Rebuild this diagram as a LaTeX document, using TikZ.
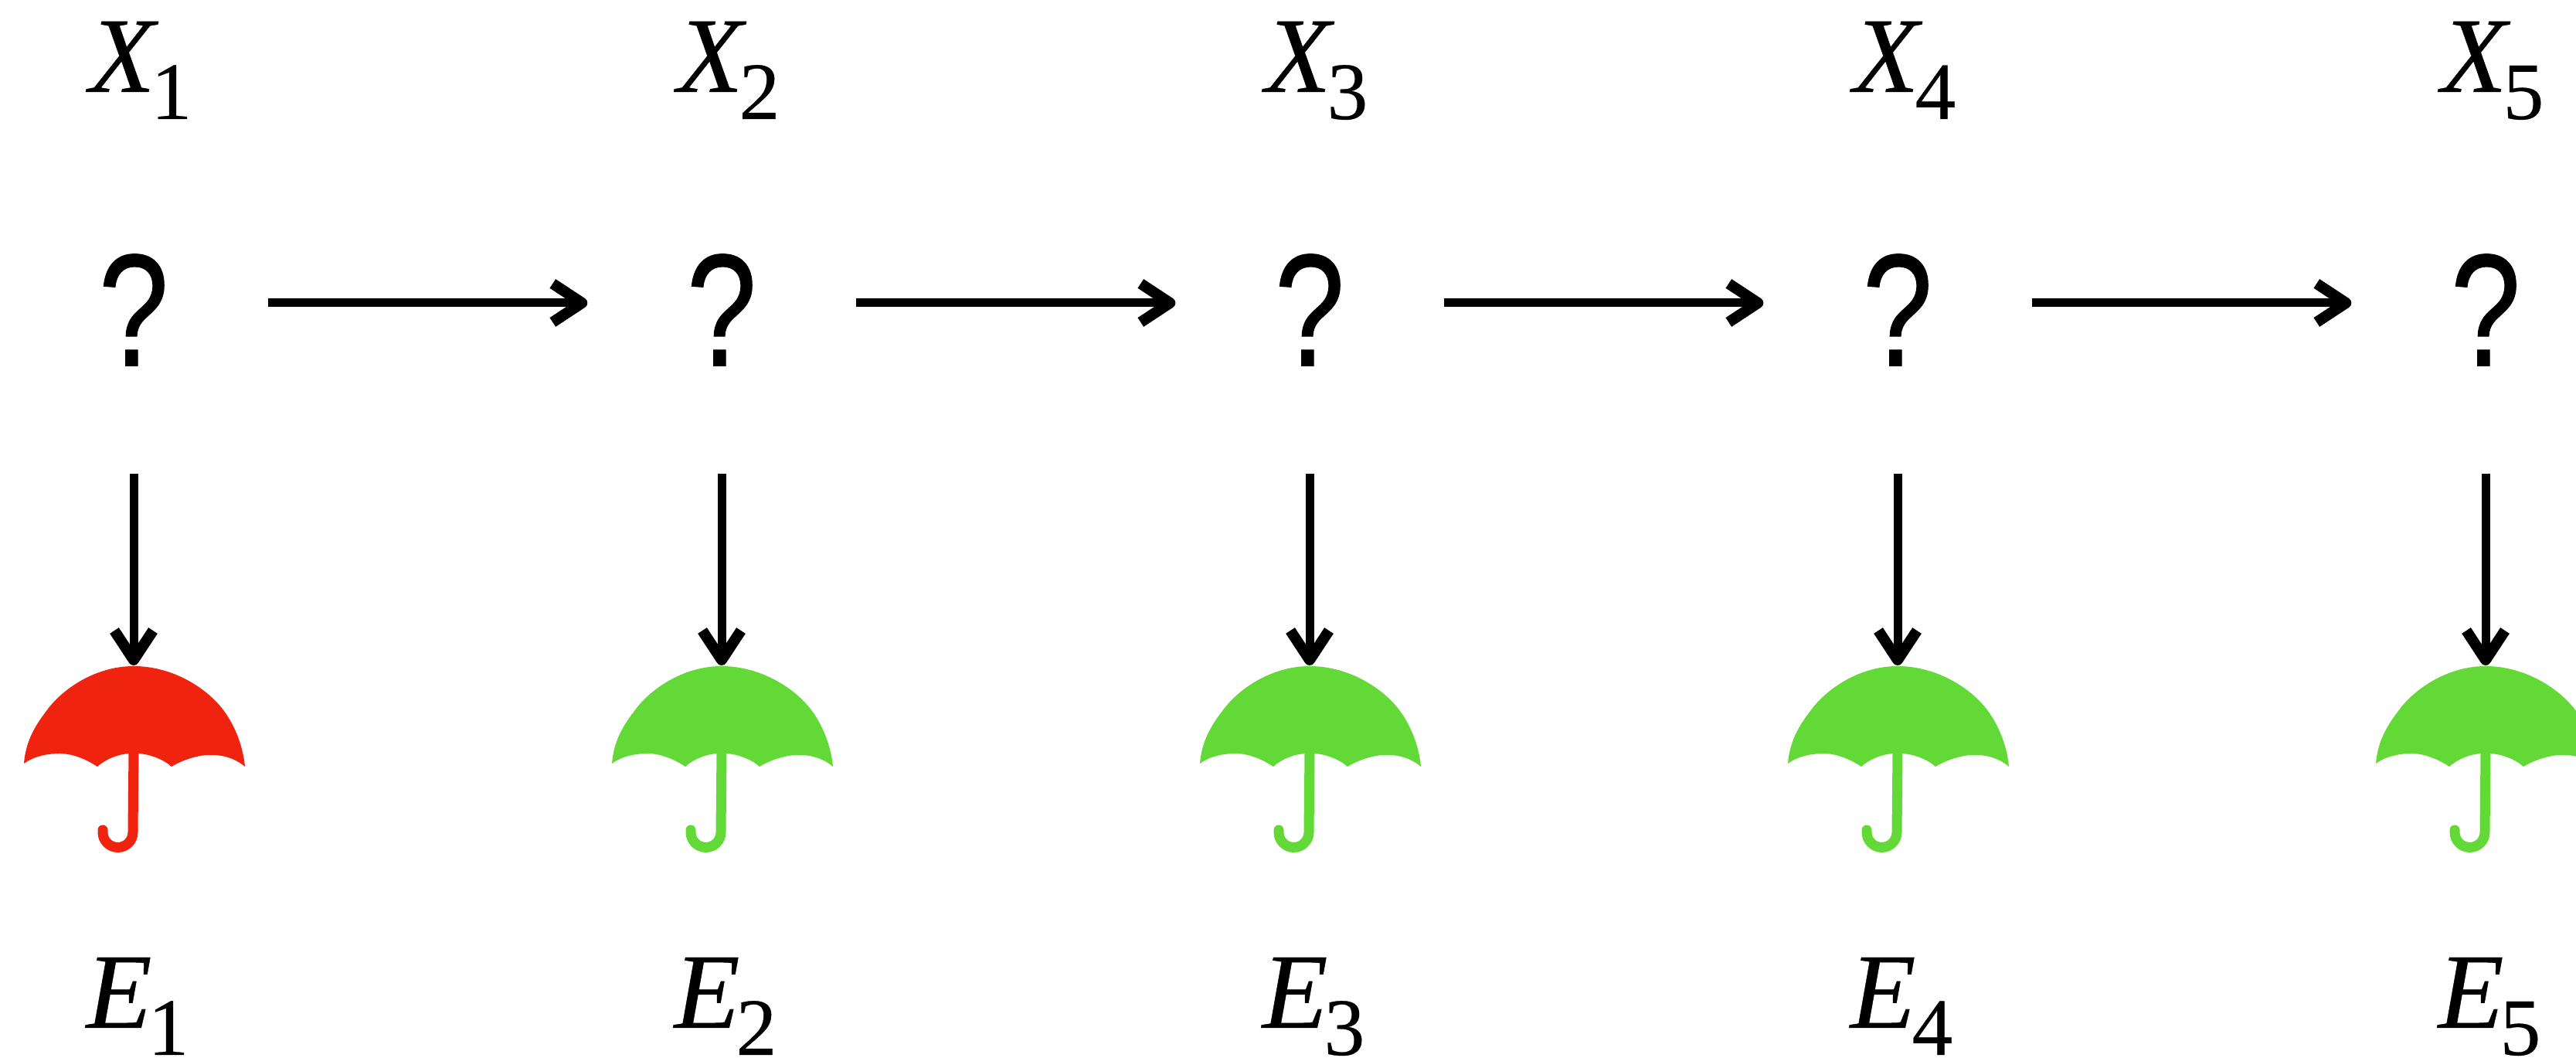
\documentclass[tikz,border=0pt]{standalone}
\usepackage{fontspec}
\usepackage{tikz}
\usetikzlibrary{arrows.meta}
\setmainfont{Liberation Serif}[UprightFeatures={FakeBold=0.3},ItalicFeatures={FakeBold=0.3}]
\newfontfamily\qfont{Liberation Sans}[FakeBold=0.6]
\newcommand{\seqlab}[2]{{\fontsize{39.55}{40}\selectfont\itshape #1}\hspace{-0.05cm}{\fontsize{30}{32}\selectfont\raisebox{-0.35cm}{#2}}}

\begin{document}
\begin{tikzpicture}[x=1cm,y=1cm,
  lab/.style={anchor=base west,inner sep=0pt,text=black},
  hidden/.style={inner sep=0pt,minimum width=3.46cm,minimum height=4.4cm,font=\qfont\fontsize{58}{60}\selectfont},
  seqarrow/.style={line width=0.11cm,-{Straight Barb[length=0.38cm,width=0.5cm,line width=0.14cm,line join=round]}}]
\definecolor{umbrellaRed}{HTML}{F0240E}
\definecolor{umbrellaGreen}{HTML}{62D936}
\useasboundingbox (0,0) rectangle (33.34,13.69);
\foreach \i/\x/\col in {1/1.73/umbrellaRed,2/9.34/umbrellaGreen,3/16.95/umbrellaGreen,4/24.56/umbrellaGreen,5/32.17/umbrellaGreen} {
  \node[lab] (x\i) at (\x-0.58,12.50) {\seqlab{X}{\i}};
  \node[hidden] (q\i) at (\x,9.77) {\raisebox{-0.09cm}[\height][0pt]{\scalebox{0.8}[1.015]{?}}};
  \coordinate (um\i) at (\x,5.08);
  \begin{scope}[shift={(\x,5.07)}]
    \fill[\col] (0,0) .. controls (.50,0) and (.95,-.28) .. (1.17,-.58) .. controls (1.33,-.80) and (1.42,-1.07) .. (1.44,-1.30)
      .. controls (1.30,-1.18) and (1.12,-1.14) .. (.95,-1.15) .. controls (.80,-1.16) and (.62,-1.22) .. (.49,-1.30)
      .. controls (.38,-1.20) and (.20,-1.14) .. (.07,-1.13) -- (-.06,-1.13) .. controls (-.20,-1.14) and (-.36,-1.20) .. (-.47,-1.30)
      .. controls (-.62,-1.20) and (-.80,-1.13) .. (-.96,-1.13) .. controls (-1.12,-1.13) and (-1.30,-1.17) .. (-1.42,-1.26)
      .. controls (-1.40,-1.00) and (-1.30,-.80) .. (-1.13,-.58) .. controls (-.93,-.30) and (-.50,0) .. (0,0) -- cycle;
    \draw[\col,line width=0.13cm,line cap=round] (0,-1.10) -- (-.01,-2.15) arc[start angle=0,end angle=-180,radius=0.195] -- (-.40,-2.12);
  \end{scope}
  \node[lab] (e\i) at (\x-0.62,0.39) {\seqlab{E}{\i}};
}
\foreach \i/\j in {1/2,2/3,3/4,4/5} {
  \draw[seqarrow] (q\i) -- (q\j);
}
\foreach \i in {1,...,5} {
  \draw[seqarrow] (q\i) -- (um\i);
}
\end{tikzpicture}
\end{document}
